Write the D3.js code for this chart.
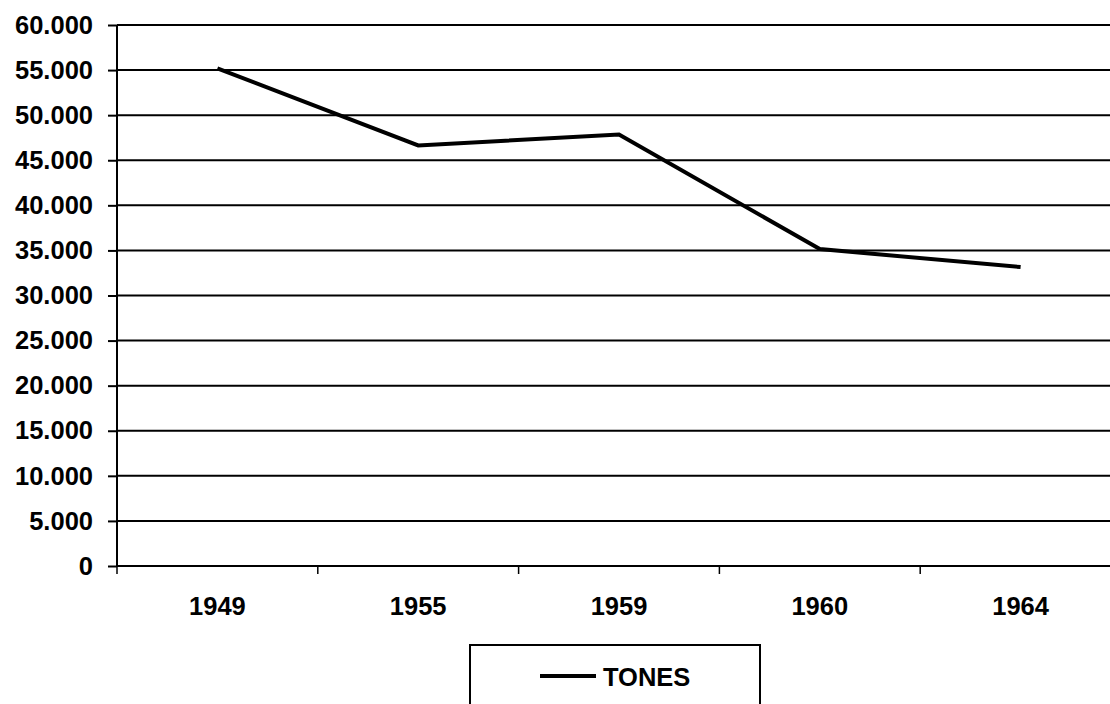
<!DOCTYPE html>
<html>
<head>
<meta charset="utf-8">
<script src="https://cdn.jsdelivr.net/npm/d3@7"></script>
<style>
  html, body { margin: 0; padding: 0; background: #fff; }
  svg { display: block; }
  text { font-family: Arial, "Liberation Sans", sans-serif; font-weight: bold; fill: #000; }
</style>
</head>
<body>
<svg id="chart" width="1110" height="704"></svg>
<script>
const categories = ["1949", "1955", "1959", "1960", "1964"];
const seriesName = "TONES";
const values = [55200, 46650, 47850, 35150, 33150];
const yTicks = [0, 5000, 10000, 15000, 20000, 25000, 30000, 35000, 40000, 45000, 50000, 55000, 60000];

const plotLeft = 117, plotTop = 25, plotBottom = 566, plotRight = 1121;
const fontSize = 25.5;

const svg = d3.select("#chart");
const locale = d3.formatLocale({decimal: ",", thousands: ".", grouping: [3], currency: ["", ""]});
const fmt = locale.format(",d");

const x = d3.scaleBand().domain(categories).range([plotLeft, plotRight]).padding(0);
const y = d3.scaleLinear().domain([0, 60000]).range([plotBottom, plotTop]);

// gridlines
svg.append("g").selectAll("line").data(yTicks.filter(d => d > 0)).join("line")
  .attr("x1", plotLeft).attr("x2", plotRight)
  .attr("y1", d => y(d)).attr("y2", d => y(d))
  .attr("stroke", "#000").attr("stroke-width", 2);

// y axis
const yAxis = svg.append("g").attr("transform", `translate(${plotLeft},0)`)
  .call(d3.axisLeft(y).tickValues(yTicks).tickFormat(fmt).tickSize(9).tickPadding(15));
yAxis.select(".domain").attr("stroke", "#000").attr("stroke-width", 2).attr("d", `M0,${plotTop}V${plotBottom}`);
yAxis.selectAll(".tick line").attr("stroke", "#000").attr("stroke-width", 2);
yAxis.attr("font-family", null).attr("font-size", null);
yAxis.selectAll(".tick text")
  .style("font-size", fontSize + "px");

// x axis line
svg.append("line").attr("x1", plotLeft).attr("x2", plotRight).attr("y1", plotBottom).attr("y2", plotBottom)
  .attr("stroke", "#000").attr("stroke-width", 2);

// x ticks at band boundaries
const boundaries = categories.map(c => x(c)).concat([x(categories[categories.length - 1]) + x.bandwidth()]);
svg.append("g").selectAll("line").data(boundaries).join("line")
  .attr("x1", d => d).attr("x2", d => d)
  .attr("y1", plotBottom).attr("y2", plotBottom + 8)
  .attr("stroke", "#000").attr("stroke-width", 1.5);

// x labels
svg.append("g").selectAll("text").data(categories).join("text")
  .attr("x", d => x(d) + x.bandwidth() / 2)
  .attr("y", 615)
  .attr("text-anchor", "middle")
  .style("font-size", fontSize + "px")
  .text(d => d);

// data line
const line = d3.line()
  .x((d, i) => x(categories[i]) + x.bandwidth() / 2)
  .y(d => y(d));
svg.append("path").datum(values)
  .attr("d", line)
  .attr("fill", "none").attr("stroke", "#000").attr("stroke-width", 4)
  .attr("stroke-linejoin", "miter");

// legend
const lg = svg.append("g");
lg.append("rect").attr("x", 470).attr("y", 645).attr("width", 290).attr("height", 80)
  .attr("fill", "#fff").attr("stroke", "#000").attr("stroke-width", 2);
lg.append("line").attr("x1", 540).attr("x2", 596).attr("y1", 676).attr("y2", 676)
  .attr("stroke", "#000").attr("stroke-width", 4);
lg.append("text").attr("x", 603).attr("y", 686)
  .style("font-size", fontSize + "px")
  .text(seriesName);
</script>
</body>
</html>
